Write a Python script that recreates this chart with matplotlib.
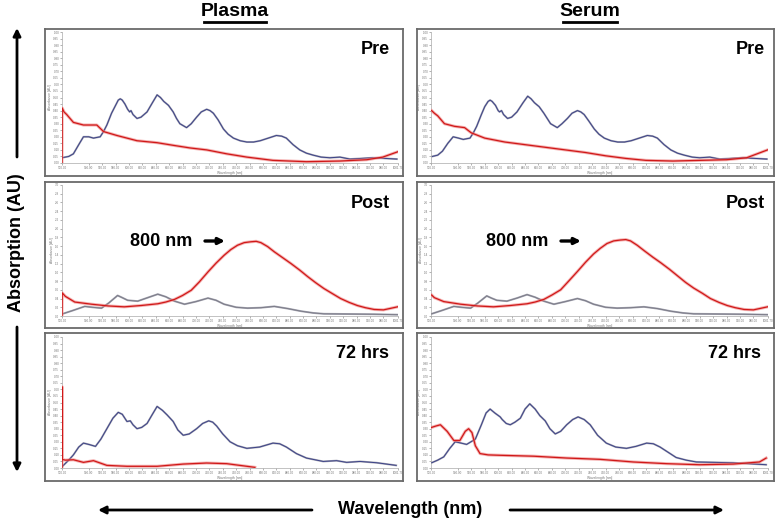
import matplotlib.pyplot as plt
import numpy as np

# ---- data (wavelength nm, absorbance AU) ----
# Plasma
pl_pre_blue_nm = [500, 510, 517, 525, 532, 540, 547, 557, 562, 567, 574, 580, 584, 587, 590, 594, 598, 601, 603,
                  606, 612, 618, 627, 635, 642, 647, 652, 659, 666, 671, 676, 686, 693, 701, 708, 716, 721, 726,
                  733, 741, 748, 756, 766, 776, 786, 796, 808, 820, 828, 835, 845, 855, 865, 875, 887, 900, 915,
                  930, 964, 1000]
pl_pre_blue = [0.04, 0.05, 0.07, 0.14, 0.20, 0.20, 0.19, 0.20, 0.24, 0.29, 0.38, 0.44, 0.48, 0.49, 0.48, 0.45,
               0.41, 0.39, 0.40, 0.37, 0.34, 0.35, 0.39, 0.46, 0.52, 0.50, 0.47, 0.44, 0.39, 0.34, 0.30, 0.27,
               0.30, 0.35, 0.39, 0.41, 0.40, 0.38, 0.33, 0.26, 0.22, 0.19, 0.17, 0.16, 0.16, 0.17, 0.19, 0.21,
               0.205, 0.19, 0.14, 0.10, 0.075, 0.06, 0.045, 0.04, 0.045, 0.03, 0.04, 0.03]
pl_pre_red_nm = [500, 500.3, 503, 507, 517, 532, 552, 562, 582, 612, 642, 666, 691, 716, 746, 776, 815, 865, 915,
                 955, 979, 1001]
pl_pre_red = [0.0, 0.42, 0.39, 0.37, 0.31, 0.29, 0.29, 0.24, 0.21, 0.17, 0.155, 0.135, 0.115, 0.10, 0.07, 0.045,
              0.02, 0.01, 0.015, 0.025, 0.045, 0.085]

pl_post_blue_nm = [501, 515, 534, 545, 559, 570, 583, 590, 598, 613, 628, 643, 655, 668, 683, 700, 718, 730, 742,
                   760, 777, 797, 817, 837, 857, 875, 891, 966, 1001]
pl_post_blue = [0.05, 0.12, 0.22, 0.20, 0.18, 0.30, 0.47, 0.42, 0.36, 0.34, 0.42, 0.50, 0.44, 0.34, 0.27, 0.33,
                0.41, 0.36, 0.27, 0.20, 0.18, 0.19, 0.22, 0.17, 0.11, 0.07, 0.05, 0.04, 0.03]
pl_post_red_nm = [500, 500.3, 505, 519, 544, 569, 593, 618, 643, 655, 668, 680, 693, 705, 718, 730, 742, 752,
                  762, 772, 782, 790, 797, 807, 817, 830, 842, 855, 867, 879, 891, 904, 916, 929, 941, 953, 966,
                  980, 1001]
pl_post_red = [0.0, 0.53, 0.45, 0.32, 0.27, 0.23, 0.21, 0.24, 0.28, 0.32, 0.38, 0.47, 0.59, 0.78, 1.01, 1.21,
               1.39, 1.52, 1.62, 1.68, 1.70, 1.71, 1.68, 1.59, 1.47, 1.33, 1.20, 1.05, 0.90, 0.76, 0.63, 0.51,
               0.40, 0.31, 0.24, 0.19, 0.15, 0.14, 0.21]

pl_72_blue_nm = [500, 510, 517, 525, 532, 540, 550, 558, 567, 576, 584, 590, 597, 602, 606, 612, 619, 627, 635,
                 642, 650, 657, 666, 673, 681, 690, 701, 710, 719, 725, 731, 740, 751, 762, 776, 795, 815, 825,
                 835, 850, 865, 890, 910, 925, 945, 970, 999]
pl_72_blue = [0.01, 0.06, 0.10, 0.16, 0.19, 0.18, 0.165, 0.22, 0.30, 0.38, 0.425, 0.41, 0.355, 0.36, 0.33, 0.30,
              0.31, 0.34, 0.41, 0.47, 0.44, 0.405, 0.355, 0.29, 0.25, 0.26, 0.30, 0.34, 0.36, 0.35, 0.32, 0.26,
              0.20, 0.17, 0.15, 0.16, 0.19, 0.185, 0.16, 0.11, 0.076, 0.05, 0.056, 0.043, 0.05, 0.04, 0.02]
pl_72_red_nm = [500, 500.2, 500.6, 505, 517, 532, 547, 567, 597, 642, 681, 716, 746, 776, 788]
pl_72_red = [0.0, 0.62, 0.065, 0.06, 0.063, 0.043, 0.056, 0.02, 0.013, 0.013, 0.03, 0.038, 0.033, 0.013, 0.005]

# Serum
se_pre_blue_nm = [502, 510, 517, 525, 533, 541, 548, 558, 563, 568, 575, 580, 585, 588, 591, 596, 600, 602, 605,
                  608, 614, 620, 628, 637, 644, 649, 654, 661, 668, 673, 678, 688, 695, 703, 710, 718, 723, 728,
                  735, 743, 750, 758, 768, 778, 788, 798, 810, 822, 830, 837, 847, 857, 867, 877, 889, 900, 915,
                  930, 964, 1000]
se_pre_blue = [0.05, 0.06, 0.09, 0.15, 0.20, 0.19, 0.18, 0.19, 0.23, 0.28, 0.37, 0.43, 0.47, 0.48, 0.47, 0.44,
               0.40, 0.39, 0.40, 0.37, 0.34, 0.35, 0.39, 0.46, 0.51, 0.49, 0.46, 0.43, 0.38, 0.34, 0.30, 0.27,
               0.30, 0.34, 0.38, 0.40, 0.39, 0.37, 0.32, 0.26, 0.22, 0.19, 0.17, 0.16, 0.16, 0.17, 0.19, 0.21,
               0.205, 0.19, 0.14, 0.10, 0.075, 0.06, 0.045, 0.04, 0.045, 0.03, 0.04, 0.03]
se_pre_red_nm = [501, 505, 510, 520, 535, 550, 560, 580, 610, 640, 670, 700, 730, 760, 790, 820, 860, 900, 940,
                 970, 1001]
se_pre_red = [0.40, 0.38, 0.36, 0.30, 0.28, 0.27, 0.23, 0.19, 0.16, 0.14, 0.12, 0.10, 0.08, 0.055, 0.035, 0.02,
              0.015, 0.02, 0.025, 0.04, 0.10]

se_post_blue_nm = [501, 515, 534, 545, 559, 570, 583, 590, 598, 613, 628, 643, 655, 668, 683, 700, 718, 730, 742,
                   760, 777, 797, 817, 837, 857, 875, 891, 966, 1001]
se_post_blue = [0.05, 0.12, 0.22, 0.20, 0.18, 0.30, 0.46, 0.41, 0.36, 0.34, 0.41, 0.49, 0.43, 0.34, 0.27, 0.33,
                0.40, 0.35, 0.27, 0.20, 0.18, 0.19, 0.21, 0.17, 0.11, 0.07, 0.05, 0.04, 0.03]
se_post_red_nm = [501, 505, 519, 544, 569, 593, 618, 643, 655, 668, 680, 693, 705, 718, 730, 742, 752, 762, 772,
                  782, 790, 797, 807, 817, 830, 842, 855, 867, 879, 891, 904, 916, 929, 941, 953, 966, 980, 1001]
se_post_red = [0.48, 0.42, 0.33, 0.27, 0.23, 0.21, 0.24, 0.28, 0.32, 0.38, 0.48, 0.60, 0.80, 1.02, 1.23, 1.42,
               1.55, 1.66, 1.72, 1.74, 1.75, 1.72, 1.62, 1.50, 1.35, 1.22, 1.07, 0.92, 0.77, 0.64, 0.52, 0.40,
               0.31, 0.24, 0.19, 0.15, 0.14, 0.21]

se_72_blue_nm = [501, 510, 519, 528, 536, 545, 553, 566, 575, 582, 588, 595, 603, 606, 612, 618, 625, 633, 640,
                 647, 655, 662, 670, 677, 685, 693, 702, 711, 719, 728, 737, 748, 761, 775, 791, 805, 821, 831,
                 841, 853, 865, 880, 895, 950, 999]
se_72_blue = [0.04, 0.06, 0.085, 0.15, 0.20, 0.19, 0.18, 0.22, 0.33, 0.42, 0.45, 0.42, 0.39, 0.37, 0.34, 0.33,
              0.35, 0.38, 0.45, 0.49, 0.45, 0.40, 0.36, 0.30, 0.26, 0.28, 0.33, 0.37, 0.39, 0.37, 0.33, 0.25,
              0.19, 0.16, 0.15, 0.165, 0.19, 0.185, 0.16, 0.12, 0.08, 0.06, 0.046, 0.04, 0.025]
se_72_red_nm = [501, 507, 514, 524, 534, 543, 551, 556, 561, 566, 573, 585, 603, 653, 702, 752, 801, 851, 900,
                950, 989, 999]
se_72_red = [0.31, 0.32, 0.33, 0.28, 0.21, 0.21, 0.28, 0.30, 0.27, 0.17, 0.11, 0.10, 0.097, 0.09, 0.076, 0.066,
             0.046, 0.033, 0.025, 0.03, 0.046, 0.076]

columns = ['Plasma', 'Serum']
rows = ['Pre', 'Post', '72 hrs']
x_ticks = [500] + list(range(540, 981, 20)) + [1001.7]

W, H = 776, 522
fig = plt.figure(figsize=(W / 100, H / 100), dpi=100)
plt.rcParams['font.family'] = ['Liberation Sans', 'DejaVu Sans']

# pixel layout of the screenshot panels
col_box = [(45, 403), (417, 774)]
col_plot = [(62, 398), (431, 768)]
row_box = [(29, 176), (182, 328), (333, 481)]
row_plot = [(32, 163), (185, 316), (337, 468)]


def rect(x0, x1, y0, y1):
    return [x0 / W, 1 - y1 / H, (x1 - x0) / W, (y1 - y0) / H]


series = {
    (0, 0): (pl_pre_blue_nm, pl_pre_blue, pl_pre_red_nm, pl_pre_red),
    (0, 1): (pl_post_blue_nm, pl_post_blue, pl_post_red_nm, pl_post_red),
    (0, 2): (pl_72_blue_nm, pl_72_blue, pl_72_red_nm, pl_72_red),
    (1, 0): (se_pre_blue_nm, se_pre_blue, se_pre_red_nm, se_pre_red),
    (1, 1): (se_post_blue_nm, se_post_blue, se_post_red_nm, se_post_red),
    (1, 2): (se_72_blue_nm, se_72_blue, se_72_red_nm, se_72_red),
}

for (c, r), (bx, by, rx, ry) in series.items():
    box = fig.add_axes(rect(*col_box[c], *row_box[r]))
    box.set_xticks([])
    box.set_yticks([])
    for s in box.spines.values():
        s.set_color('#6a6a6a')
        s.set_linewidth(1.3)

    ax = fig.add_axes(rect(*col_plot[c], *row_plot[r]))
    ax.patch.set_alpha(0)
    post = (r == 1)
    ymax = 3.0 if post else 1.0
    ax.set_xlim(500, 1001.7)
    ax.set_ylim(0, ymax)
    if post:
        yt = np.round(np.arange(0, 3.01, 0.2), 1)
        ax.set_yticks(yt, ['%.1f' % v for v in yt])
    else:
        yt = np.round(np.arange(0, 1.001, 0.05), 2)
        ax.set_yticks(yt, ['%.2f' % v for v in yt])
    ax.set_xticks(x_ticks, ['%.2f' % v for v in x_ticks])
    ax.tick_params(labelsize=2.2, length=1.2, width=0.4, pad=0.8, colors='#777777')
    for side in ['top', 'right']:
        ax.spines[side].set_visible(False)
    for side in ['left', 'bottom']:
        ax.spines[side].set_color('#aaaaaa')
        ax.spines[side].set_linewidth(0.5)
    ax.set_xlabel('Wavelength [nm]', fontsize=2.4, labelpad=0.8, color='#777777')
    ax.set_ylabel('Absorbance [AU]', fontsize=2.4, labelpad=0.8, color='#777777')

    bcol = '#7c7c88' if post else '#3c4288'
    ax.plot(bx, by, color='#a8a8b4', lw=1.4, zorder=2)
    ax.plot(bx, by, color=bcol, lw=0.7, zorder=3)
    ax.plot(rx, ry, color='#ee8080', lw=2.2, alpha=0.6, zorder=4)
    ax.plot(rx, ry, color='#d01818', lw=0.9, zorder=5)

# overlay in pixel coordinates for the annotations
ov = fig.add_axes([0, 0, 1, 1], zorder=10)
ov.set_xlim(0, W)
ov.set_ylim(H, 0)
ov.axis('off')

bold = dict(fontsize=13, fontweight='bold', color='black')
label_pos = {(0, 0): (390, 50), (0, 1): (390, 203), (0, 2): (389, 354),
             (1, 0): (765, 50), (1, 1): (765, 203), (1, 2): (761, 353)}
for (c, r), (x, y) in label_pos.items():
    ov.text(x, y, rows[r], ha='right', va='center', **bold)

for tx, ax0, ax1 in [(161, 205, 225), (517, 561, 581)]:
    ov.text(tx, 241, '800 nm', ha='center', va='center', **bold)
    ov.annotate('', xy=(ax1, 241), xytext=(ax0, 241),
                arrowprops=dict(arrowstyle='-|>', lw=2.4, color='black', mutation_scale=9,
                                shrinkA=0, shrinkB=0))

# column titles, underlined
for name, cx, hw in [(columns[0], 235, 31), (columns[1], 590, 27)]:
    ov.text(cx, 11, name, ha='center', va='center', fontsize=14, fontweight='bold',
            family=['Liberation Sans Narrow', 'Liberation Sans'])
    ov.plot([cx - hw, cx + hw], [21.5, 21.5], color='black', lw=2)

# axis titles with arrows
ov.text(17, 243, 'Absorption (AU)', rotation=90, ha='center', va='center', **bold)
ov.text(410, 509, 'Wavelength (nm)', ha='center', va='center', **bold)
arrow = dict(arrowstyle='-|>', lw=2, color='black', mutation_scale=11, shrinkA=0, shrinkB=0)
ov.annotate('', xy=(17, 28), xytext=(17, 157), arrowprops=arrow)
ov.annotate('', xy=(17, 472), xytext=(17, 327), arrowprops=arrow)
ov.annotate('', xy=(98, 510), xytext=(312, 510), arrowprops=arrow)
ov.annotate('', xy=(724, 510), xytext=(510, 510), arrowprops=arrow)

fig.savefig('out.png', dpi=100)
